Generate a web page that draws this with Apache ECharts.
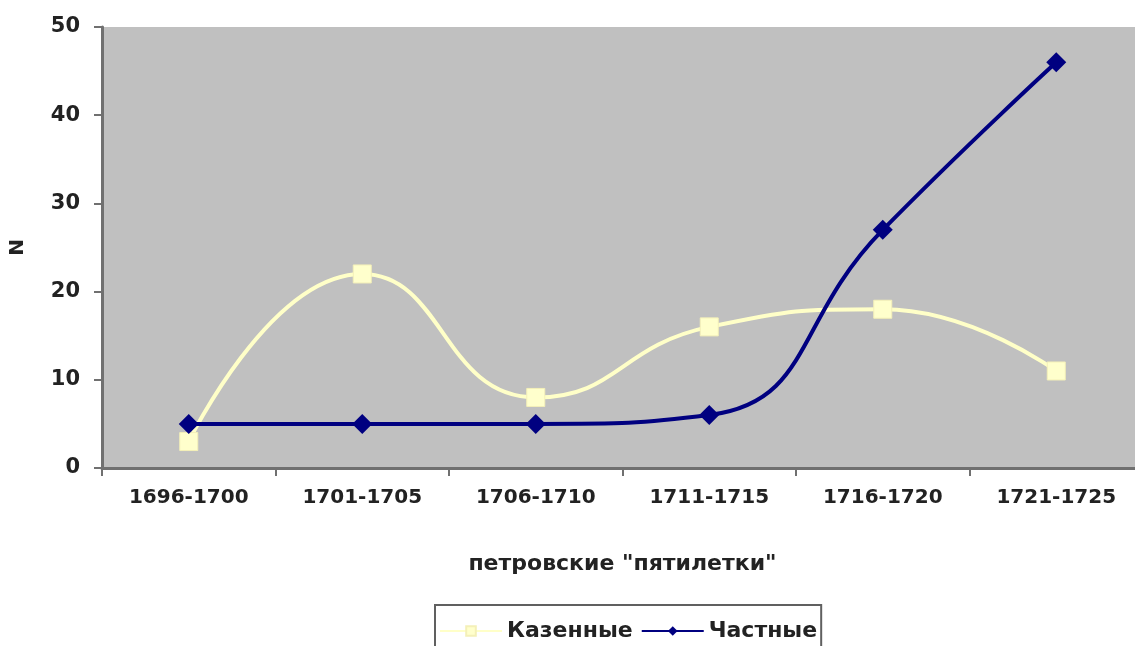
<!DOCTYPE html>
<html>
<head>
<meta charset="utf-8">
<script src="https://cdn.jsdelivr.net/npm/echarts@6/dist/echarts.min.js"></script>
<style>
html,body{margin:0;padding:0;background:#fff;}
#chart{width:1135px;height:646px;}
</style>
</head>
<body>
<div id="chart"></div>
<script>
const categories = ['1696-1700','1701-1705','1706-1710','1711-1715','1716-1720','1721-1725'];
const kazennye = [3, 22, 8, 16, 18, 11];
const chastnye = [5, 5, 5, 6, 27, 46];
const yTicks = {min: 0, max: 50, interval: 10};

const font = '"DejaVu Sans", sans-serif';
const chart = echarts.init(document.getElementById('chart'), null, {renderer: 'canvas'});
chart.setOption({
  backgroundColor: '#ffffff',
  animation: false,
  grid: {left: 102, right: -8, top: 27, bottom: 178, show: true, backgroundColor: '#c0c0c0', borderWidth: 0, outerBoundsMode: 'none', containLabel: false},
  legend: {
    left: 435, top: 605,
    padding: [15, 4, 30, 4],
    borderColor: '#606060', borderWidth: 2,
    itemWidth: 62, itemHeight: 12, itemGap: 8,
    textStyle: {fontFamily: font, fontWeight: 'bold', fontSize: 22, color: '#222'},
    data: [{name: 'Казенные'}, {name: 'Частные'}]
  },
  xAxis: {
    type: 'category',
    data: categories,
    name: 'петровские "пятилетки"',
    nameLocation: 'middle',
    nameGap: 85,
    nameTextStyle: {fontFamily: font, fontWeight: 'bold', fontSize: 22, color: '#222'},
    axisLine: {lineStyle: {color: '#707070', width: 3}},
    axisTick: {show: true, length: 8, lineStyle: {color: '#707070', width: 2}},
    axisLabel: {fontFamily: font, fontWeight: 'bold', fontSize: 20, color: '#222', margin: 20}
  },
  yAxis: {
    type: 'value',
    min: yTicks.min, max: yTicks.max, interval: yTicks.interval,
    name: 'N',
    nameLocation: 'middle',
    nameGap: 74,
    nameRotate: 90,
    nameTextStyle: {fontFamily: font, fontWeight: 'bold', fontSize: 20, color: '#222'},
    splitLine: {show: false},
    axisLine: {show: true, lineStyle: {color: '#707070', width: 3}},
    axisTick: {show: true, length: 8, lineStyle: {color: '#707070', width: 2}},
    axisLabel: {fontFamily: font, fontWeight: 'bold', fontSize: 21, color: '#222', margin: 22}
  },
  series: [
    {
      name: 'Казенные',
      type: 'line',
      data: kazennye,
      smooth: 0.5,
      symbol: 'rect',
      symbolSize: 18,
      lineStyle: {color: '#ffffc8', width: 4},
      itemStyle: {color: '#ffffcc', borderColor: '#f4f0b8', borderWidth: 1},
      z: 2
    },
    {
      name: 'Частные',
      type: 'line',
      data: chastnye,
      smooth: 0.5,
      symbol: 'diamond',
      symbolSize: 20,
      lineStyle: {color: '#000080', width: 4},
      itemStyle: {color: '#000080'},
      z: 3
    }
  ]
});
</script>
</body>
</html>
